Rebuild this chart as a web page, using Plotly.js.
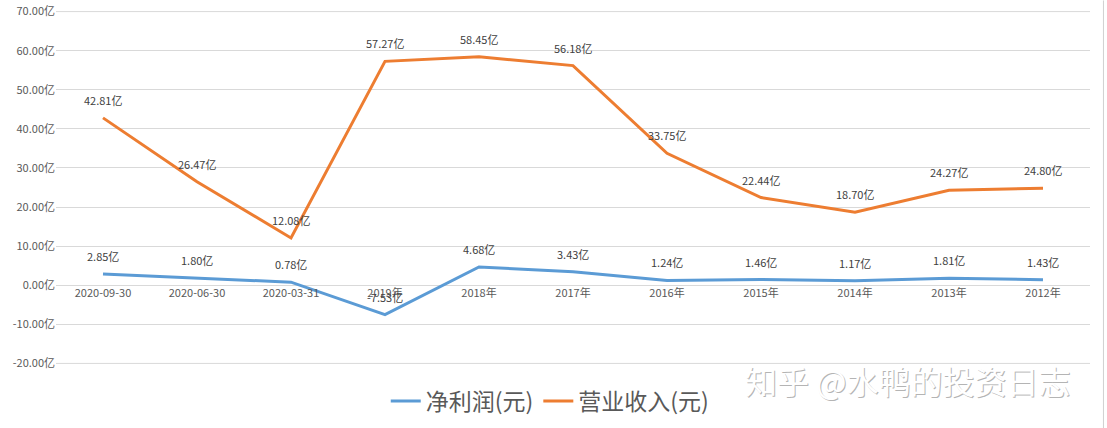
<!DOCTYPE html>
<html>
<head>
<meta charset="utf-8">
<script src="https://cdn.plot.ly/plotly-3.0.1.min.js"></script>
<style>html,body{margin:0;padding:0;background:#fff;}#chart{width:1107px;height:428px;}</style>
</head>
<body>
<div id="chart"></div>
<script>
var categories = ["2020-09-30","2020-06-30","2020-03-31","2019年","2018年","2017年","2016年","2015年","2014年","2013年","2012年"];
var netProfit = [2.85, 1.80, 0.78, -7.53, 4.68, 3.43, 1.24, 1.46, 1.17, 1.81, 1.43];
var revenue = [42.81, 26.47, 12.08, 57.27, 58.45, 56.18, 33.75, 22.44, 18.70, 24.27, 24.80];
var seriesNames = ["净利润(元)", "营业收入(元)"];
var yTicks = [-20, -10, 0, 10, 20, 30, 40, 50, 60, 70];

var FONT = '"Microsoft YaHei", "Noto Sans CJK SC", sans-serif';
var colors = ["#5B9BD5", "#ED7D31"];

var traces = [netProfit, revenue].map(function(vals, i){
  return {
    x: categories, y: vals, type: "scatter", mode: "lines",
    name: seriesNames[i],
    line: {color: colors[i], width: 3},
    hoverinfo: "skip"
  };
});

var annotations = [];
[netProfit, revenue].forEach(function(vals){
  vals.forEach(function(v, j){
    annotations.push({
      x: categories[j], y: v, xref: "x", yref: "y",
      text: v.toFixed(2) + "亿", showarrow: false,
      yshift: 18, font: {family: FONT, size: 11, color: "#404040"}
    });
  });
});
annotations.push({
  xref: "paper", yref: "paper", x: 0.664, y: -0.045, xanchor: "left", yanchor: "middle",
  text: "知乎 @水鸭的投资日志", showarrow: false,
  font: {family: FONT, size: 32, color: "#ffffff", shadow: "1px 1px 0px #b4b4b4"}
});

// edge gridlines (Plotly omits grid lines at the plot edges)
var edgeTicks = [yTicks[0], yTicks[yTicks.length - 1]];
var shapes = edgeTicks.map(function(t){
  return {type: "line", xref: "paper", yref: "y", x0: 0, x1: 1, y0: t, y1: t,
    line: {color: "#d9d9d9", width: 1}, layer: "below"};
});
shapes.push({type: "line", xref: "paper", yref: "paper", x0: 1.013, x1: 1.013, y0: -0.2, y1: 1.03,
  line: {color: "#d0d0d0", width: 1}});

var layout = {
  width: 1107, height: 428,
  margin: {l: 56, r: 17, t: 10.6, b: 63.6, autoexpand: false},
  paper_bgcolor: "#ffffff", plot_bgcolor: "#ffffff",
  showlegend: true,
  legend: {orientation: "h", x: 0.478, xanchor: "center", y: -0.105, yanchor: "middle",
    font: {family: FONT, size: 23, color: "#595959"}, itemwidth: 30, tracegroupgap: 0},
  xaxis: {
    type: "category", range: [-0.5, 10.5], anchor: "free", position: 20.15/90.3,
    showgrid: false, zeroline: false, showline: false, ticks: "",
    tickfont: {family: FONT, size: 11, color: "#595959"}, fixedrange: true
  },
  yaxis: {
    range: [-20.15, 70.15], tickvals: yTicks,
    ticktext: yTicks.map(function(t){ return t.toFixed(2) + "亿"; }),
    showgrid: true, gridcolor: "#d9d9d9", gridwidth: 1,
    zeroline: true, zerolinecolor: "#d9d9d9", zerolinewidth: 1,
    showline: false, ticks: "",
    tickfont: {family: FONT, size: 11, color: "#595959"}, fixedrange: true
  },
  shapes: shapes,
  annotations: annotations
};

Plotly.newPlot("chart", traces, layout, {displayModeBar: false, staticPlot: true});
</script>
</body>
</html>
